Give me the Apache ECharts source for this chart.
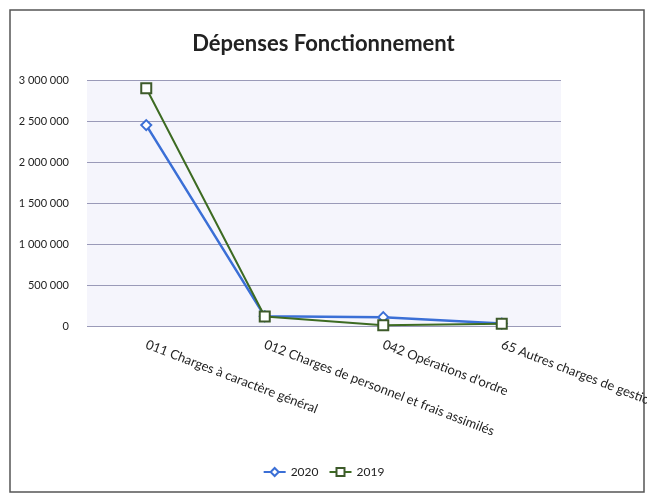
<!DOCTYPE html>
<html><head><meta charset="utf-8">
<script src="https://cdn.jsdelivr.net/npm/echarts@6/dist/echarts.min.js"></script>
<style>html,body{margin:0;padding:0;background:#fff}#c{width:647px;height:494px}</style>
</head><body><div id="c"></div>
<script>
const categories = ['011 Charges à caractère général','012 Charges de personnel et frais assimilés','042 Opérations d\'ordre','65 Autres charges de gestion courante'];
const series2020 = [2450000, 118000, 108000, 30000];
const series2019 = [2900000, 115000, 10000, 28000];
const yTicks = {min: 0, max: 3000000, interval: 500000};
const font = 'Lato, "Open Sans", sans-serif';
function fmt(v){return String(v).replace(/\B(?=(\d{3})+(?!\d))/g,' ');}
const chart = echarts.init(document.getElementById('c'));
chart.setOption({
  animation:false,
  backgroundColor:'#fff',
  title:{text:'Dépenses Fonctionnement',left:'center',top:28,textStyle:{fontFamily:font,fontSize:22,fontWeight:'bold',color:'#222'}},
  graphic:[{type:'rect',shape:{x:10,y:10,width:634,height:482},style:{fill:'none',stroke:'#555',lineWidth:1.5},silent:true,z:-1}],
  grid:{left:87,right:86,top:80,bottom:168,backgroundColor:'#f5f5fc',show:true,borderWidth:0,containLabel:false,outerBoundsMode:'none'},
  legend:{bottom:11,left:'center',itemWidth:22,itemHeight:10,itemGap:10,textStyle:{fontFamily:font,fontSize:12,color:'#222'},data:['2020','2019']},
  xAxis:{type:'category',data:categories,boundaryGap:true,
    axisLine:{show:false},axisTick:{show:false},
    axisLabel:{rotate:-21,interval:0,fontFamily:font,fontSize:13,color:'#222',margin:18}},
  yAxis:{type:'value',min:yTicks.min,max:yTicks.max,interval:yTicks.interval,
    axisLine:{show:false},axisTick:{show:false},
    splitLine:{lineStyle:{color:'#9a9ab8',width:1}},
    axisLabel:{formatter:fmt,fontFamily:font,fontSize:11,color:'#222',margin:18}},
  series:[
    {name:'2020',type:'line',data:series2020,symbol:'diamond',symbolSize:10,
     lineStyle:{color:'#3b6fd6',width:2.5},itemStyle:{color:'#fff',borderColor:'#3b6fd6',borderWidth:2},color:'#3b6fd6',z:2},
    {name:'2019',type:'line',data:series2019,symbol:'rect',symbolSize:10,
     lineStyle:{color:'#3d6b22',width:2},itemStyle:{color:'#fff',borderColor:'#3d5a2a',borderWidth:2},color:'#3d6b22',z:3}
  ]
});
</script></body></html>
